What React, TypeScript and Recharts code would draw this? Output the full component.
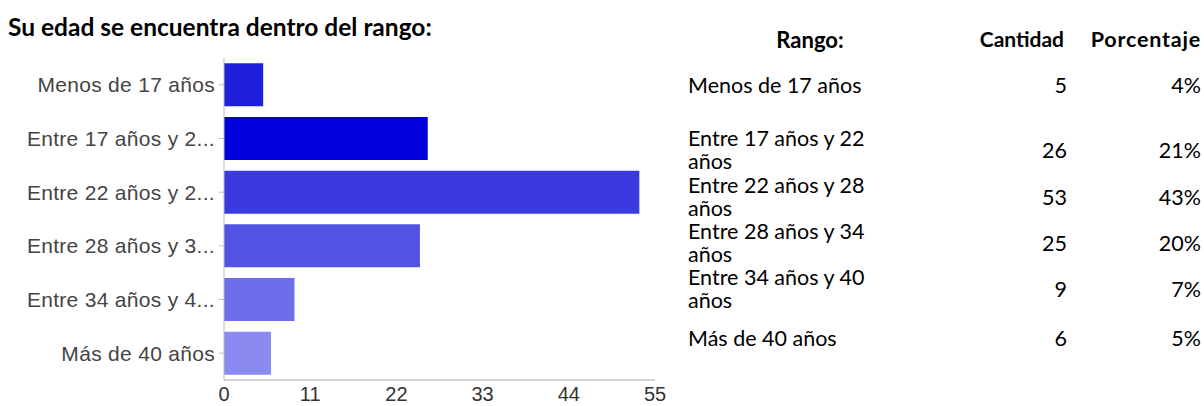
import { BarChart, Bar, XAxis, YAxis, Cell } from 'recharts';

const categories = [
  'Menos de 17 años',
  'Entre 17 años y 22 años',
  'Entre 22 años y 28 años',
  'Entre 28 años y 34 años',
  'Entre 34 años y 40 años',
  'Más de 40 años',
];
const counts = [5, 26, 53, 25, 9, 6];
const percents = ['4%', '21%', '43%', '20%', '7%', '5%'];
const xTicks = [0, 11, 22, 33, 44, 55];
const barColors = ['#1f1fd9', '#0000dc', '#3a3ae0', '#5252e5', '#6e6eeb', '#8a8af0'];

const data = categories.map((name, i) => ({ name, value: counts[i] }));

// google-forms style truncation of long labels
const shorten = (s: string) => (s.length > 17 ? s.slice(0, 17) + '...' : s);

// vertical centre of the first text line of each table row
const rowTops = [87, 140, 187, 233, 279, 340];

const tableFont = 'Lato, "Open Sans", sans-serif';
const axisFont = '"Liberation Sans", Arial, sans-serif';

export default function App() {
  return (
    <div style={{ position: 'absolute', left: 0, top: 0, width: 1204, height: 406, background: '#fff', overflow: 'hidden' }}>
      <div
        style={{
          position: 'absolute', left: 8, top: 12, fontFamily: tableFont, fontWeight: 700,
          fontSize: 24.5, color: '#000', whiteSpace: 'nowrap',
        }}
      >
        Su edad se encuentra dentro del rango:
      </div>

      <div style={{ position: 'absolute', left: 0, top: 0 }}>
        <BarChart
          width={680}
          height={406}
          data={data}
          layout="vertical"
          margin={{ top: 58, right: 25, bottom: 0, left: 0 }}
          barCategoryGap="10%"
        >
          <XAxis
            type="number"
            domain={[0, 55]}
            ticks={xTicks}
            interval={0}
            height={26}
            axisLine={{ stroke: '#aaa' }}
            tickLine={false}
            tickSize={0}
            tickMargin={7}
            tick={{ fill: '#333', fontSize: 20, fontFamily: axisFont }}
          />
          <YAxis
            type="category"
            dataKey="name"
            width={224}
            axisLine={{ stroke: '#bbb' }}
            tickLine={{ stroke: '#bbb' }}
            tickSize={5}
            tickMargin={4}
            tickFormatter={shorten}
            tick={{ fill: '#444', fontSize: 21, letterSpacing: 0.3, fontFamily: axisFont }}
          />
          <Bar dataKey="value" isAnimationActive={false}>
            {data.map((d, i) => (
              <Cell key={d.name} fill={barColors[i]} />
            ))}
          </Bar>
        </BarChart>
      </div>

      <div style={{ position: 'absolute', left: 0, top: 0, fontFamily: tableFont, fontSize: 21.5, color: '#000' }}>
        <div style={{ position: 'absolute', left: 740, width: 140, top: 26, textAlign: 'center', fontWeight: 700, fontSize: 22 }}>Rango:</div>
        <div style={{ position: 'absolute', left: 940, width: 124, top: 26, textAlign: 'right', fontWeight: 700, fontSize: 21 }}>Cantidad</div>
        <div style={{ position: 'absolute', left: 1054, width: 147, top: 26, textAlign: 'right', fontWeight: 700, fontSize: 21.5, letterSpacing: 0.8 }}>Porcentaje</div>
        {categories.map((c, i) => (
          <div
            key={c}
            style={{
              position: 'absolute', left: 688, top: rowTops[i] - 13, width: 513,
              display: 'flex', alignItems: 'center', lineHeight: '23px',
            }}
          >
            <div style={{ width: 200 }}>{c}</div>
            <div style={{ width: 179, textAlign: 'right' }}>{counts[i]}</div>
            <div style={{ width: 134, textAlign: 'right' }}>{percents[i]}</div>
          </div>
        ))}
      </div>
    </div>
  );
}
